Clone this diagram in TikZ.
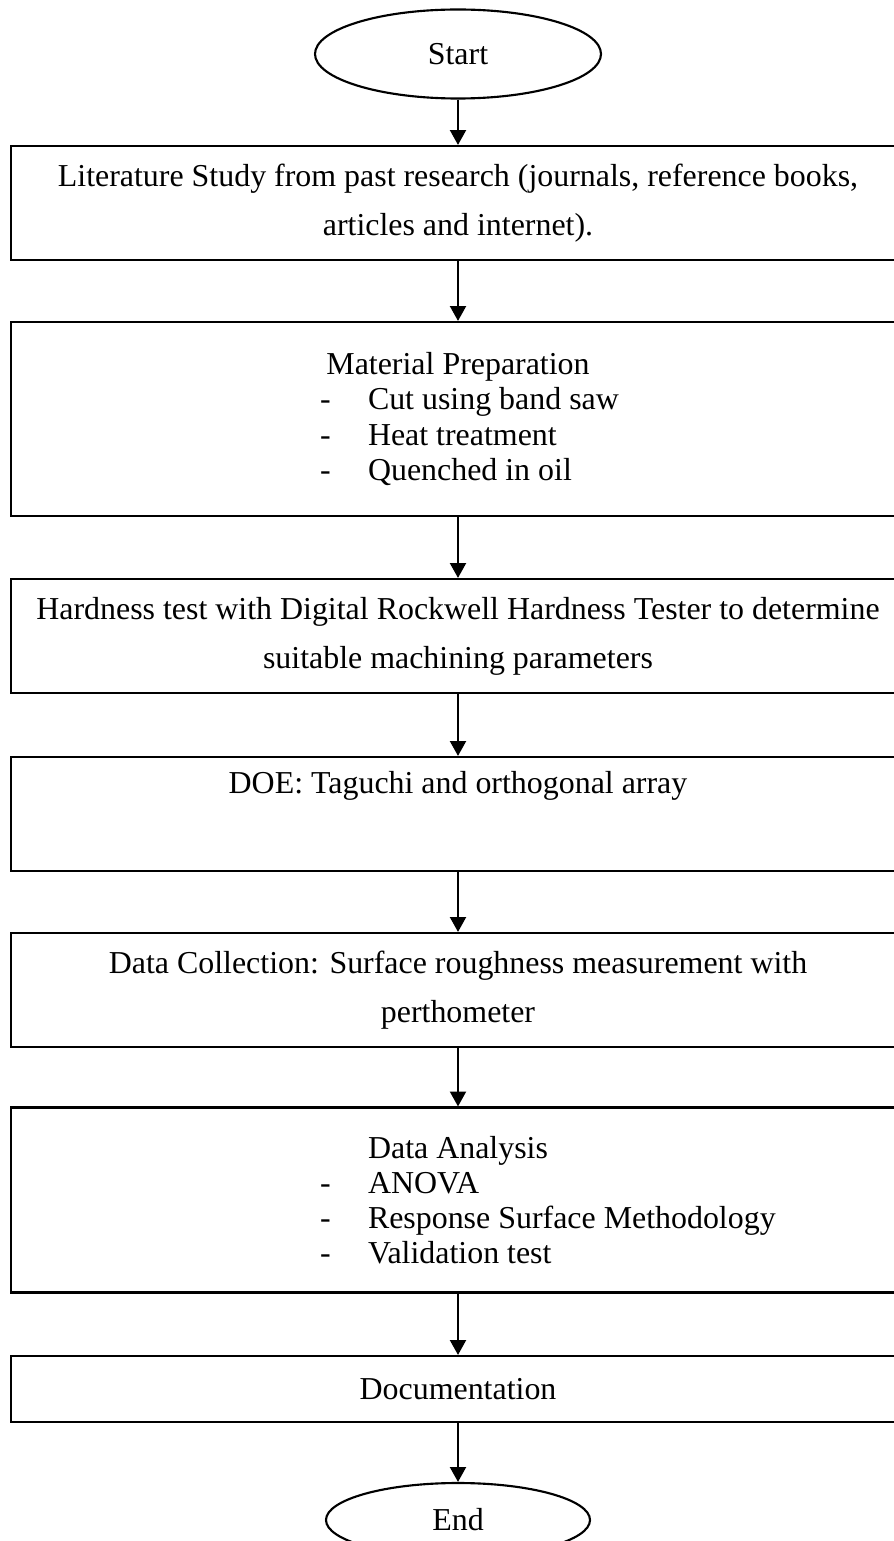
\documentclass[tikz,border=0pt]{standalone}
\usepackage{fontspec}
\setmainfont{Liberation Serif}
\usetikzlibrary{arrows.meta, shapes.geometric, positioning}

\newlength{\unitpx}
\setlength{\unitpx}{0.376pt}
% one line of a dashed list inside a box
\newcommand{\dashitem}[1]{\makebox[276\unitpx][l]{\makebox[48\unitpx][l]{-}#1}}

\begin{document}
\begin{tikzpicture}[
		  x=\unitpx, y=-\unitpx,
		  % Define the style of the start and end terminals
		  terminal/.style={ellipse, draw, line width=0.8pt, inner sep=0pt, font=\fontsize{12pt}{14pt}\selectfont},
		  % Define the style of the process boxes
		  stepbox/.style={rectangle, draw, line width=0.8pt, minimum width=894*\unitpx, align=center, font=\fontsize{12pt}{18.4pt}\selectfont},
		  % Define the style of the boxes holding a list
		  listbox/.style={stepbox, font=\fontsize{12pt}{13.2pt}\selectfont},
		  % Define the style of the arrow between nodes
		  arrow/.style={-{Triangle[length=5.6pt, width=6pt]}, line width=0.8pt}
		  ]
		  \useasboundingbox (0,0) rectangle (893,1541);

		  % Start and end
		  \node[terminal, minimum width=286*\unitpx, minimum height=89*\unitpx] (start) at (458,54) {Start};
		  \node[terminal, minimum width=264*\unitpx, minimum height=74*\unitpx] (stop) at (458,1520) {End};

		  % Process steps
		  \node[stepbox, minimum height=114*\unitpx] (lit) at (458,203)
		    {Literature Study from past research (journals, reference books,\\ articles and internet).};
		  \node[listbox, minimum height=194*\unitpx] (prep) at (458,419)
		    {Material Preparation\\ \dashitem{Cut using band saw}\\ \dashitem{Heat treatment}\\ \dashitem{Quenched in oil}};
		  \node[stepbox, minimum height=114*\unitpx] (hard) at (458,636)
		    {Hardness test with Digital Rockwell Hardness Tester to determine\\ suitable machining parameters};
		  \node[stepbox, minimum height=114*\unitpx] (doe) at (458,814)
		    {DOE: Taguchi and orthogonal array\\ \strut};
		  \node[stepbox, minimum height=114*\unitpx] (collect) at (458,990)
		    {Data Collection: Surface roughness measurement with\\ perthometer};
		  \node[listbox, minimum height=185*\unitpx] (analysis) at (458,1200)
		    {Data Analysis\\ \dashitem{ANOVA}\\ \dashitem{Response Surface Methodology}\\ \dashitem{Validation test}};
		  \node[stepbox, minimum height=66*\unitpx] (doc) at (458,1389) {Documentation};

		  % Connect the nodes
		  \foreach \a/\b in {start/lit, lit/prep, prep/hard, hard/doe, doe/collect, collect/analysis, analysis/doc, doc/stop} {
		    \draw[arrow] (\a) -- (\b);
		  }
    \end{tikzpicture}
\end{document}
